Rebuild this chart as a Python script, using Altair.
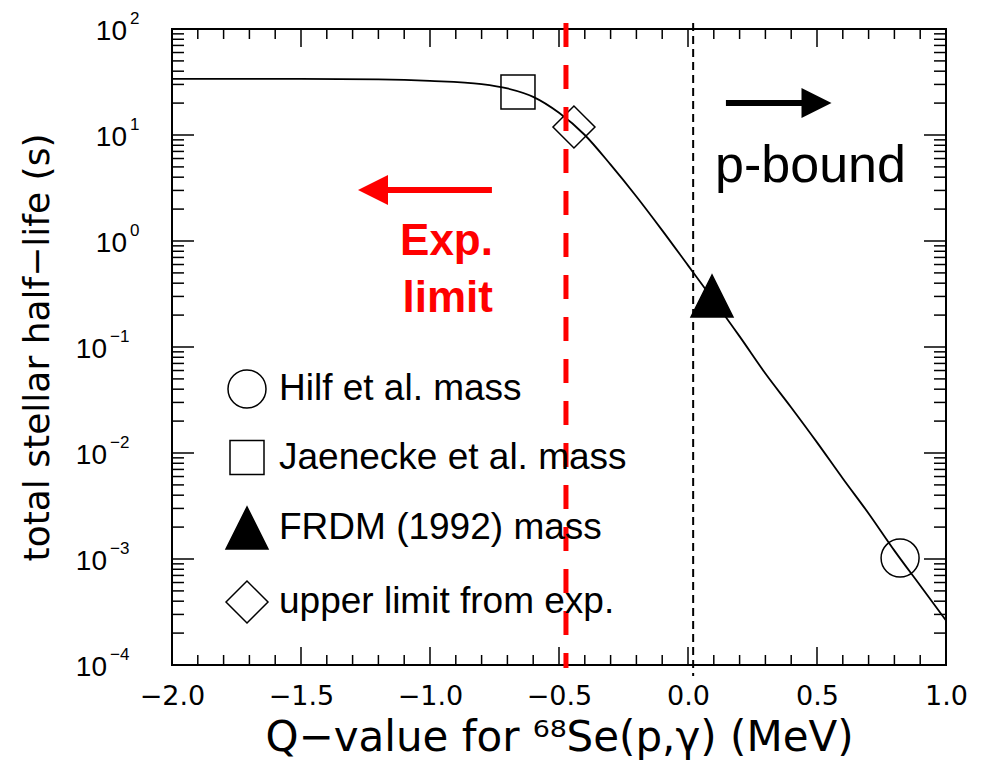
import altair as alt
import pandas as pd

# ---- data ----
curve_q = [-2.0, -1.5, -1.2, -1.0, -0.8, -0.7, -0.6, -0.5, -0.4, -0.3, -0.2, -0.1,
           0.0, 0.1, 0.2, 0.3, 0.4, 0.5, 0.6, 0.7, 0.8, 0.9, 1.0]
curve_t = [33.9, 33.9, 33.5, 32.4, 30.2, 27.5, 22.9, 16.2, 10.0, 5.25, 2.63, 1.26,
           0.589, 0.275, 0.126, 0.0562, 0.0269, 0.0126, 0.00575, 0.00269, 0.00120,
           0.000562, 0.000263]

series = ["Hilf et al. mass", "Jaenecke et al. mass", "FRDM (1992) mass", "upper limit from exp."]
marker_q = [0.822, -0.659, 0.093, -0.442]
marker_t = [0.00102, 25.5, 0.303, 11.9]

exp_limit_q = [-0.473]
p_bound_q = [0.02]

x_major = [-2.0, -1.5, -1.0, -0.5, 0.0, 0.5, 1.0]
x_minor = [round(-2.0 + 0.1 * i, 1) for i in range(31) if i % 5 != 0]
y_major = [1e-4, 1e-3, 1e-2, 1e-1, 1.0, 10.0, 100.0]
y_minor = [m * 10.0 ** e for e in range(-4, 2) for m in range(2, 10)]
y_exponents = ["\u22124", "\u22123", "\u22122", "\u22121", "0", "1", "2"]

W, H = 774, 636

xs = alt.Scale(domain=[-2.0, 1.0], nice=False, zero=False)
ys = alt.Scale(type="log", domain=[1e-4, 100], nice=False)

curve_df = pd.DataFrame({"q": curve_q, "t": curve_t})
pts_df = pd.DataFrame({"series": series, "q": marker_q, "t": marker_t})
ylab_df = pd.DataFrame({"v": y_major, "e": y_exponents, "b": ["10"] * len(y_major)})

x_axis = alt.Axis(values=x_major, format=".1f", labelFont="DejaVu Sans", labelFontSize=27,
                  labelColor="black", labelPadding=18, labelFlush=False, labelOverlap=False,
                  ticks=False, domain=False, grid=False,
                  title="Q\u2212value for \u2076\u2078Se(p,\u03b3) (MeV)", titleFont="DejaVu Sans",
                  titleFontSize=42, titleFontWeight="normal", titleColor="black",
                  titleY=85, titleBaseline="alphabetic")
y_axis = alt.Axis(values=y_major, labels=False,
                  ticks=False, domain=False, grid=False,
                  title="total stellar half\u2212life (s)", titleFont="DejaVu Sans",
                  titleFontSize=36, titleFontWeight="normal", titleColor="black",
                  titleX=-124, titleY=H / 2, titleAlign="center", titleBaseline="alphabetic")

X = lambda f: alt.X(f, scale=xs)
Y = lambda f: alt.Y(f, scale=ys)

curve = alt.Chart(curve_df).mark_line(color="black", strokeWidth=1.8, interpolate="monotone").encode(
    x=alt.X("q:Q", scale=xs, axis=x_axis),
    y=alt.Y("t:Q", scale=ys, axis=y_axis),
)

# y tick labels: "10" with a raised exponent
def ylabels(pos, base_x, exp_x):
    src = alt.Chart(ylab_df).transform_filter(
        "datum.v >= 1" if pos else "datum.v < 1")
    base = src.mark_text(font="Liberation Sans", fontSize=28, color="black",
                         align="right", baseline="alphabetic", dy=11).encode(
        y=Y("v:Q"), x=alt.value(base_x), text="b:N")
    expo = src.mark_text(font="Liberation Sans", fontSize=17, color="black",
                         align="left", baseline="alphabetic", dy=-5).encode(
        y=Y("v:Q"), x=alt.value(exp_x), text="e:N")
    return [base, expo]

ylabel_layers = ylabels(True, -45, -42) + ylabels(False, -65, -62)

def xticks(vals, length):
    df = pd.DataFrame({"v": vals})
    bot = alt.Chart(df).mark_rule(color="black", strokeWidth=1.5).encode(
        x=X("v:Q"), y=alt.value(H), y2=alt.value(H - length))
    top = alt.Chart(df).mark_rule(color="black", strokeWidth=1.5).encode(
        x=X("v:Q"), y=alt.value(0), y2=alt.value(length))
    return [bot, top]

def yticks(vals, length):
    df = pd.DataFrame({"v": vals})
    left = alt.Chart(df).mark_rule(color="black", strokeWidth=1.5).encode(
        y=Y("v:Q"), x=alt.value(0), x2=alt.value(length))
    right = alt.Chart(df).mark_rule(color="black", strokeWidth=1.5).encode(
        y=Y("v:Q"), x=alt.value(W), x2=alt.value(W - length))
    return [left, right]

tick_layers = xticks(x_major, 18) + xticks(x_minor, 10) + yticks(y_major, 22) + yticks(y_minor, 12)

pbound_line = alt.Chart(pd.DataFrame({"q": p_bound_q})).mark_rule(
    color="black", strokeWidth=2, strokeDash=[8, 5]).encode(
    x=X("q:Q"), y=alt.value(-6), y2=alt.value(H + 11))

exp_line = alt.Chart(pd.DataFrame({"q": exp_limit_q})).mark_rule(
    color="#ff0000", strokeWidth=5, strokeDash=[24, 18]).encode(
    x=X("q:Q"), y=alt.value(-6), y2=alt.value(H + 3))

leg = alt.Legend(title=None, orient="none", legendX=53, legendY=340, padding=0,
                 labelFont="Liberation Sans", labelFontSize=37, labelColor="black",
                 labelOffset=10, labelLimit=600, rowPadding=26,
                 symbolStrokeWidth=1.5)

tri_up = "M0,-1L-1,1L1,1Z"
points = alt.Chart(pts_df).mark_point(strokeWidth=1.5, opacity=1).encode(
    x=X("q:Q"),
    y=Y("t:Q"),
    shape=alt.Shape("series:N", scale=alt.Scale(domain=series, range=["circle", "square", tri_up, "diamond"]), legend=leg),
    fill=alt.Fill("series:N", scale=alt.Scale(domain=series, range=["transparent", "transparent", "black", "transparent"]), legend=leg),
    stroke=alt.Stroke("series:N", scale=alt.Scale(domain=series, range=["black", "black", "black", "black"]), legend=leg),
    size=alt.Size("series:N", scale=alt.Scale(type="ordinal", domain=series, range=[1444, 1156, 1764, 1764]), legend=leg),
)

# annotations (anchored in data coordinates)
pbound_txt = alt.Chart(pd.DataFrame({"q": [0.105], "t": [3.6], "s": ["p-bound"]})).mark_text(
    font="Liberation Sans", fontSize=52, color="black", align="left", baseline="alphabetic").encode(
    x=X("q:Q"), y=Y("t:Q"), text="s:N")

exp_txt = alt.Chart(pd.DataFrame({"q": [-0.756, -0.756], "t": [0.738, 0.214], "s": ["Exp.", "limit"]})).mark_text(
    font="Liberation Sans", fontSize=44, fontWeight="bold", color="#ff0000", align="right", baseline="alphabetic").encode(
    x=X("q:Q"), y=Y("t:Q"), text="s:N")

red_shaft = alt.Chart(pd.DataFrame({"q": [-0.760], "q2": [-1.18], "t": [3.03]})).mark_rule(
    color="#ff0000", strokeWidth=6).encode(
    x=X("q:Q"), x2="q2:Q", y=Y("t:Q"))
red_head = alt.Chart(pd.DataFrame({"q": [-1.221], "t": [3.03]})).mark_point(
    shape="M-1,0L1,-1L1,1Z", filled=True, color="#ff0000", size=900, opacity=1).encode(
    x=X("q:Q"), y=Y("t:Q"))

blk_shaft = alt.Chart(pd.DataFrame({"q": [0.147], "q2": [0.46], "t": [20.0]})).mark_rule(
    color="black", strokeWidth=6).encode(
    x=X("q:Q"), x2="q2:Q", y=Y("t:Q"))
blk_head = alt.Chart(pd.DataFrame({"q": [0.498], "t": [20.0]})).mark_point(
    shape="M1,0L-1,-1L-1,1Z", filled=True, color="black", size=900, opacity=1).encode(
    x=X("q:Q"), y=Y("t:Q"))

chart = alt.layer(
    curve, *tick_layers, *ylabel_layers, pbound_line, points, pbound_txt, exp_txt,
    red_shaft, red_head, blk_shaft, blk_head, exp_line
).properties(
    width=W, height=H,
    autosize=alt.AutoSizeParams(type="none"),
    padding={"left": 172, "top": 29, "right": 40, "bottom": 97},
    background="white",
).configure_view(stroke="black", strokeWidth=2, clip=False)

chart.save("out.html", embed_options={"renderer": "svg", "actions": False})
